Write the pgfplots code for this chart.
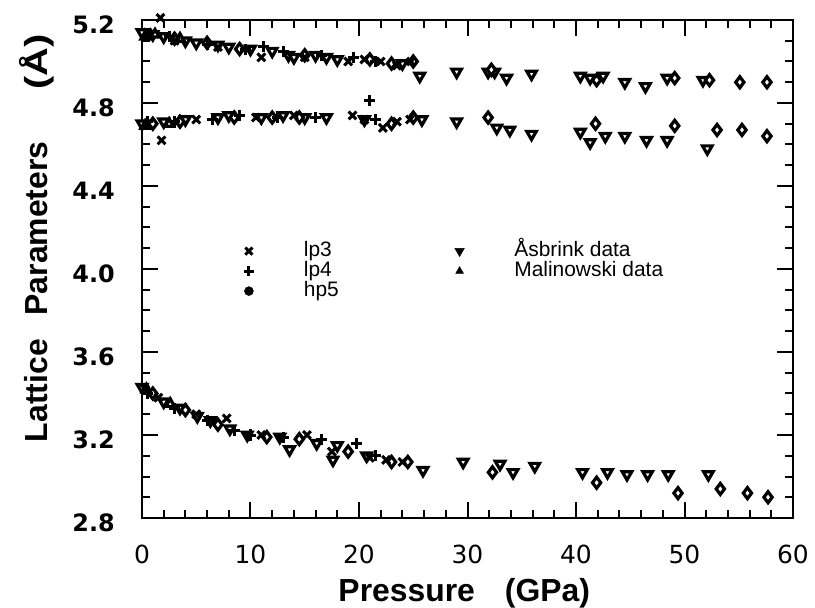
\documentclass[border=0pt]{standalone}
\usepackage{fontspec}
\setmainfont{Liberation Sans}
\newfontfamily\djv{DejaVu Sans}
\usepackage{pgfplots}
\pgfplotsset{compat=1.18}
\begin{document}
\begin{tikzpicture}
\begin{axis}[
  at={(0,0)}, anchor=south west,
  scale only axis, width=651bp, height=498bp,
  xmin=0, xmax=60, ymin=2.8, ymax=5.2,
  xtick={0,10,20,30,40,50,60}, minor x tick num=4,
  ytick={2.8,3.2,3.6,4.0,4.4,4.8,5.2}, minor y tick num=3,
  tick align=inside,
  major tick length=16bp, minor tick length=8bp,
  every tick/.style={black, line width=2bp},
  axis line style={line width=2.5bp},
  clip=false,
  /pgf/number format/assume math mode=true,
  xticklabel style={font=\djv\fontsize{25}{25}\selectfont, anchor=base, inner sep=0pt, yshift=-45bp},
  yticklabel style={font=\djv\bfseries\fontsize{24}{24}\selectfont, anchor=east, inner sep=0pt, xshift=-27bp, yshift=-5bp,
     /pgf/number format/.cd, fixed, fixed zerofill, precision=1},
  xlabel={\bfseries Pressure\hspace{30bp}(GPa)},
  ylabel={\bfseries Lattice\hspace{24bp}Parameters\hspace{52bp}\scalebox{1.25}[1]{(Å)}},
  every axis x label/.style={at={(axis description cs:0.495,-0.1667)}, anchor=base, font=\fontsize{32}{32}\selectfont},
  every axis y label/.style={at={(axis description cs:-0.1459,0.562)}, anchor=base, rotate=90, font=\fontsize{32}{32}\selectfont},
  legend columns=2,
  legend cell align=left,
  legend style={at={(axis cs:9.1,4.145)}, anchor=north west, draw=none, fill=none,
     /tikz/every odd column/.style={column sep=50bp},
     /tikz/every even column/.style={column sep=116bp},
     row sep=0bp,
     nodes={inner sep=0pt, text height=15bp, text depth=5bp, font=\fontsize{21}{21}\selectfont}},
  legend image code/.code={\draw[#1] plot coordinates {(0bp,0bp)};},
]
% legend entries (order gives the two columns)
\addlegendimage{only marks, mark=x, mark size=5bp, line width=3bp, black}
\addlegendentry{lp3}
\addlegendimage{only marks, mark=triangle*, mark size=5.5bp, mark options={rotate=180}, black}
\addlegendentry{Åsbrink data}
\addlegendimage{only marks, mark=+, mark size=5bp, line width=3bp, black}
\addlegendentry{lp4}
\addlegendimage{only marks, mark=triangle*, mark size=4.5bp, black}
\addlegendentry{Malinowski data}
\addlegendimage{only marks, mark=*, mark size=4.5bp, black}
\addlegendentry{hp5}

% Asbrink data (inverted triangles)
\addplot[forget plot, only marks, mark=triangle*, mark size=5.5bp, line width=3.2bp,
  mark options={rotate=180, fill=white, draw=black}] coordinates {
 (0,5.14) (1,5.13) (2,5.12) (4,5.10) (5,5.09) (7,5.08) (8,5.07) (10,5.06)
 (12,5.05) (13.5,5.03) (14,5.02) (16,5.03) (17,5.02) (18,5.01) (24,4.99)
 (25.6,4.93) (29.0,4.95) (31.9,4.95) (32.5,4.95) (33.6,4.92) (35.9,4.94)
 (40.4,4.93) (41.3,4.92) (42.5,4.93) (44.5,4.90) (46.4,4.88) (48.4,4.92) (51.7,4.91)
 (0,4.70) (2,4.71) (4,4.72) (7,4.73) (8,4.74) (11,4.73) (13,4.74) (15,4.73)
 (17,4.73) (20.5,4.72) (25.8,4.72) (29.0,4.71) (32.7,4.68) (33.9,4.67) (35.9,4.65)
 (40.4,4.66) (41.3,4.61) (42.7,4.64) (44.5,4.64) (46.5,4.62) (48.4,4.62) (52.1,4.58)
 (0,3.43) (2,3.36) (3.5,3.33) (5.1,3.29) (6.3,3.27) (8.1,3.23) (9.7,3.20)
 (12.7,3.19) (13.6,3.13) (16.1,3.16) (17.6,3.08) (18,3.15) (20.7,3.10)
 (25.9,3.03) (29.6,3.07) (33.0,3.06) (34.2,3.02) (36.2,3.05) (40.6,3.02)
 (42.9,3.02) (44.7,3.01) (46.6,3.01) (48.5,3.01) (52.2,3.01)
};
% Malinowski data (triangles)
\addplot[forget plot, only marks, mark=triangle*, mark size=5bp, line width=3.2bp,
  mark options={fill=white, draw=black}] coordinates {
 (0.3,5.12) (1.2,5.13) (3.5,5.11) (0.3,4.69) (2.5,4.70) (0.4,3.42) (2.6,3.35)
};
% hp5 (diamonds)
\addplot[forget plot, only marks, mark=diamond*, mark size=5.5bp, line width=3.2bp,
  mark options={fill=white, draw=black}] coordinates {
 (3,5.11) (6,5.09) (9,5.06) (15,5.03) (21,5.01) (23,4.99) (25,5.0)
 (32.2,4.96) (41.9,4.91) (49.1,4.92) (52.3,4.91) (55.1,4.90) (57.6,4.90)
 (1,4.70) (3.5,4.71) (8.5,4.73) (12,4.73) (14.5,4.73) (23,4.70) (25,4.73)
 (31.9,4.73) (41.8,4.70) (49.1,4.69) (53.0,4.67) (55.3,4.67) (57.6,4.64)
 (1,3.40) (4,3.32) (7,3.25) (11.5,3.19) (14.5,3.18) (19,3.12) (23,3.07) (24.5,3.07)
 (32.3,3.02) (41.9,2.97) (49.4,2.92) (53.3,2.94) (55.8,2.92) (57.7,2.90)
};
% lp3 (crosses)
\addplot[forget plot, only marks, mark=x, mark size=5.5bp, line width=3bp, black] coordinates {
 (1.7,5.21) (0.5,5.14) (3,5.10) (7,5.07) (11,5.02) (15,5.02) (19,5.00)
 (20.5,5.01) (22,5.00) (23.5,4.98) (24.8,5.00)
 (1.8,4.62) (0.5,4.70) (5,4.72) (10.5,4.73) (14,4.74) (19.4,4.74) (20.5,4.72)
 (22.2,4.68) (23.5,4.71) (24.7,4.72)
 (0.3,3.42) (1.5,3.38) (5,3.30) (7.8,3.28) (11,3.20) (15.2,3.20) (17.5,3.12)
 (21,3.09) (22.5,3.08) (24,3.07)
};
% lp4 (pluses)
\addplot[forget plot, only marks, mark=+, mark size=5.5bp, line width=3bp, black] coordinates {
 (0.3,5.12) (2.5,5.12) (6,5.08) (9.5,5.06) (11.2,5.07) (13,5.05) (16.5,5.03) (19.5,5.02) (21.5,5.00)
 (0.5,4.71) (3,4.71) (6.5,4.72) (9,4.74) (12.5,4.73) (16,4.73) (21.0,4.81) (21.5,4.72)
 (0.5,3.40) (3,3.33) (6,3.27) (8.5,3.22) (10,3.20) (13,3.19) (16.5,3.18) (19.8,3.16) (21.5,3.10)
};
\end{axis}
\pgfresetboundingbox
\path[use as bounding box] (-142bp,-90bp) rectangle (673bp,518bp);
\end{tikzpicture}
\end{document}
